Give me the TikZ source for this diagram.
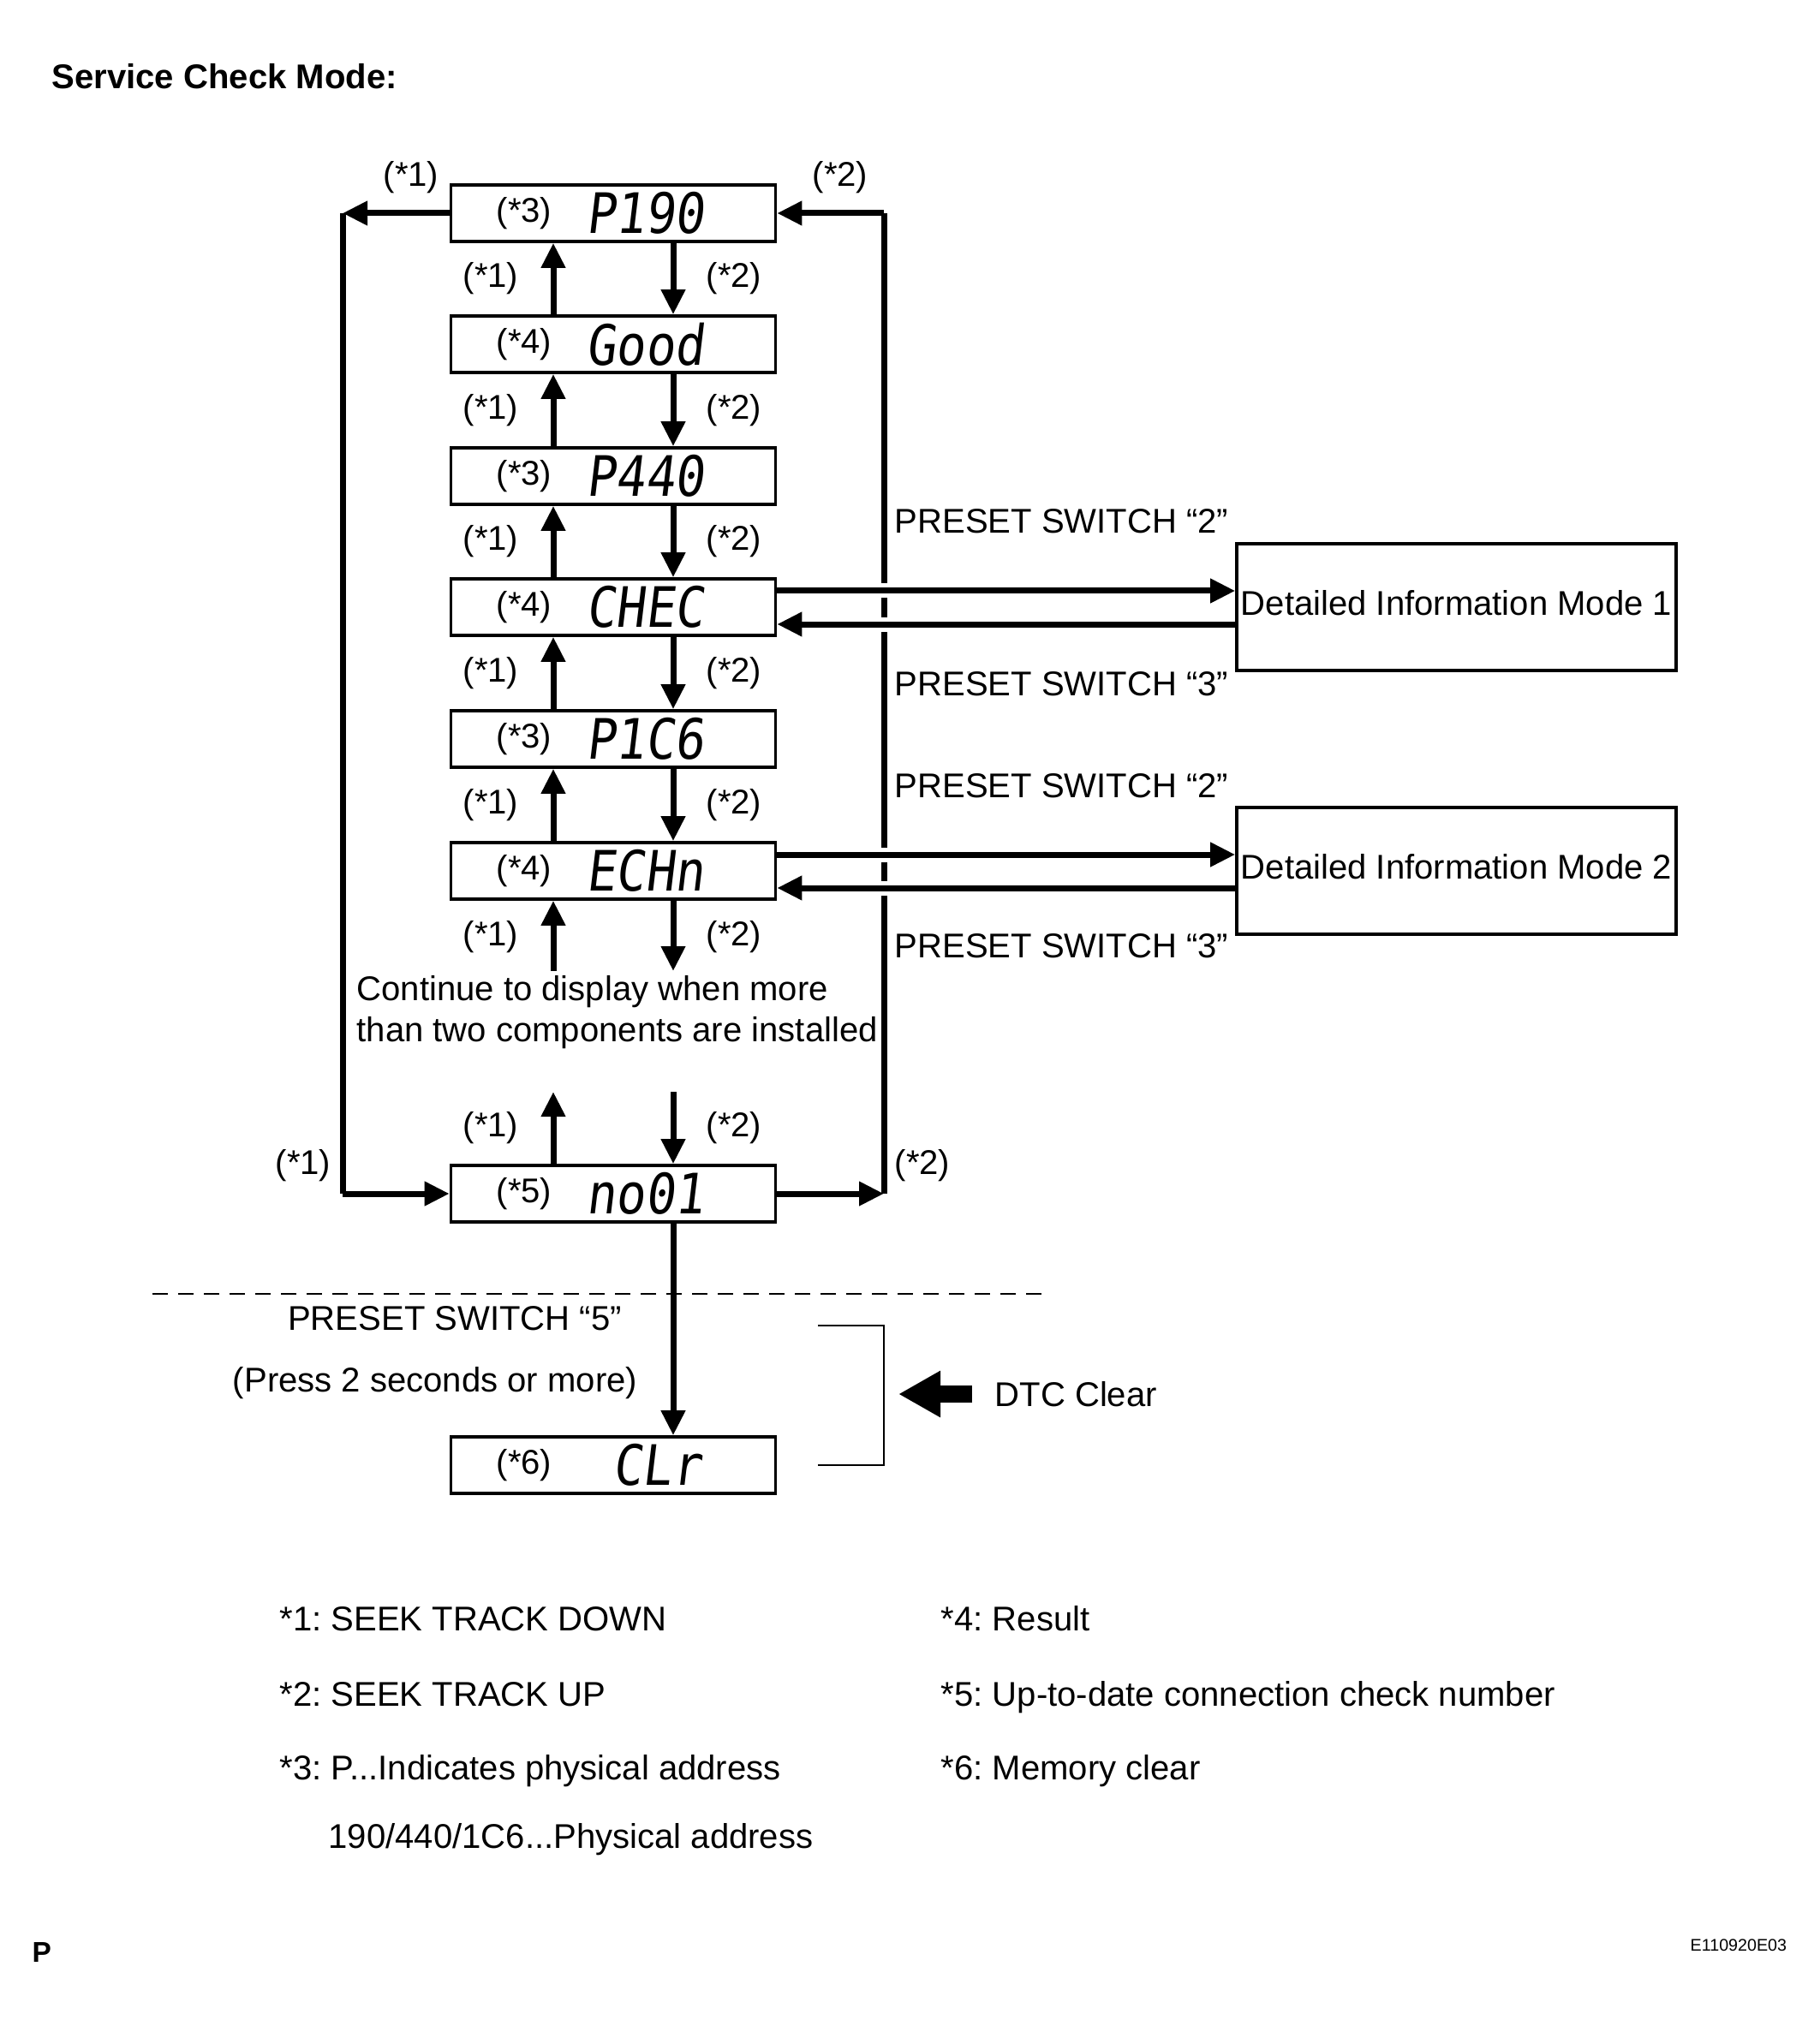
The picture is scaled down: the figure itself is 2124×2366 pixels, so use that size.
\documentclass[tikz,border=0pt]{standalone}
\usepackage{fontspec}
\setmainfont{Liberation Sans}
\newfontfamily\segfont[FakeStretch=0.88,FakeSlant=0.12]{DejaVu Sans Mono}
\usetikzlibrary{arrows.meta,calc}
\frenchspacing
\tikzset{
  dbox/.style={draw, line width=0.36mm, minimum width=37.9mm, minimum height=6.6mm, inner sep=0pt},
  ibox/.style={draw, line width=0.36mm, minimum width=51.3mm, minimum height=14.8mm, inner sep=0pt},
  arr/.style={line width=0.7mm, -{Triangle[length=2.9mm,width=2.7mm]}},
  thk/.style={line width=0.7mm},
  gapline/.style={draw=white, line width=1.7mm},
  lbl/.style={font=\fontsize{11.4}{13.7}\selectfont, inner sep=0pt},
  seg/.style={font=\segfont\fontsize{18.5}{20}\selectfont, inner sep=0pt},
  thinline/.style={line width=0.2mm},
  dashline/.style={line width=0.15mm, dash pattern=on 1.8mm off 1.2mm},
}
\begin{document}
\frenchspacing
\begin{tikzpicture}[x=0.1mm,y=-0.1mm]
\useasboundingbox (0,0) rectangle (2124,2366);

% title
\node[lbl, font=\fontsize{11.4}{13.7}\selectfont\bfseries, anchor=base west] (title) at (60,104) {Service Check Mode:};

% display boxes
\node[dbox] (b1) at (716,249) {};
\node[dbox] (b2) at (716,402) {};
\node[dbox] (b3) at (716,556) {};
\node[dbox] (b4) at (716,709) {};
\node[dbox] (b5) at (716,863) {};
\node[dbox] (b6) at (716,1017) {};
\node[dbox] (b7) at (716,1394) {};
\node[dbox] (b8) at (716,1711) {};

% box contents
\node[lbl] (t1) at ($(b1.center)+(-104,0)$) {(*3)};
\node[seg] (s1) at ($(b1.center)+(37,0)$) {P190};
\node[lbl] (t2) at ($(b2.center)+(-104,0)$) {(*4)};
\node[seg] (s2) at ($(b2.center)+(37,0)$) {Good};
\node[lbl] (t3) at ($(b3.center)+(-104,0)$) {(*3)};
\node[seg] (s3) at ($(b3.center)+(37,0)$) {P440};
\node[lbl] (t4) at ($(b4.center)+(-104,0)$) {(*4)};
\node[seg] (s4) at ($(b4.center)+(37,0)$) {CHEC};
\node[lbl] (t5) at ($(b5.center)+(-104,0)$) {(*3)};
\node[seg] (s5) at ($(b5.center)+(37,0)$) {P1C6};
\node[lbl] (t6) at ($(b6.center)+(-104,0)$) {(*4)};
\node[seg] (s6) at ($(b6.center)+(37,0)$) {ECHn};
\node[lbl] (t7) at ($(b7.center)+(-104,0)$) {(*5)};
\node[seg] (s7) at ($(b7.center)+(37,0)$) {no01};
\node[lbl] (t8) at ($(b8.center)+(-104,0)$) {(*6)};
\node[seg] (s8) at ($(b8.center)+(51,0)$) {CLr};

% arrows between boxes
\foreach \a/\b in {b1/b2,b2/b3,b3/b4,b4/b5,b5/b6}{
  \draw[arr] ($(\a.south)+(70,0)$) -- ($(\b.north)+(70,0)$);
  \draw[arr] ($(\b.north)+(-70,0)$) -- ($(\a.south)+(-70,0)$);
  \node[lbl] (u\a) at ($(\a.south)!0.5!(\b.north)+(-143,0)$) {(*1)};
  \node[lbl] (d\a) at ($(\a.south)!0.5!(\b.north)+(141,0)$) {(*2)};
}

% continuation
\coordinate (c1) at (646,1134);
\coordinate (c2) at (786,1134);
\coordinate (c3) at (646,1275);
\coordinate (c4) at (786,1275);
\draw[arr] ($(b6.south)+(70,0)$) -- (c2);
\draw[arr] (c1) -- ($(b6.south)+(-70,0)$);
\node[lbl] (u6) at (573,1094) {(*1)};
\node[lbl] (d6) at (857,1094) {(*2)};
\node[lbl, anchor=base west, align=left] (cont1) at (416,1168) {Continue to display when more};
\node[lbl, anchor=base west, align=left] (cont2) at (416,1216) {than two components are installed};
\draw[arr] ($(b7.north)+(-70,0)$) -- (c3);
\draw[arr] (c4) -- ($(b7.north)+(70,0)$);
\node[lbl] (u7) at (573,1317) {(*1)};
\node[lbl] (d7) at (857,1317) {(*2)};

% loops
\coordinate (L1) at (400,249);
\coordinate (L2) at (400,1394);
\coordinate (R1) at (1032,249);
\coordinate (R2) at (1032,1394);
\draw[arr] (b1.west) -- (L1);
\draw[thk] (L1) -- (L2);
\draw[arr] (L2) -- (b7.west);
\draw[arr] (b7.east) -- (R2);
\draw[thk] (R2) -- (R1);
\draw[arr] (R1) -- (b1.east);
\node[lbl] (lt1) at (480,207) {(*1)};
\node[lbl] (lt2) at (981,207) {(*2)};
\node[lbl] (lb1) at (354,1361) {(*1)};
\node[lbl] (lb2) at (1077,1361) {(*2)};

% detailed information boxes
\node[ibox] (A) at (1700.5,709) {};
\node[ibox] (B) at (1700.5,1017) {};
\node[lbl, anchor=west] (At) at ($(A.west)+(6,-5)$) {Detailed Information Mode 1};
\node[lbl, anchor=west] (Bt) at ($(B.west)+(6,-5)$) {Detailed Information Mode 2};

% gaps in right vertical line
\draw[gapline] ($(R1|-b4.east)+(-6,-19)$) -- ++(12,0);
\draw[gapline] ($(R1|-b4.east)+(-6,20)$) -- ++(12,0);
\draw[gapline] ($(R1|-b6.east)+(-6,-19)$) -- ++(12,0);
\draw[gapline] ($(R1|-b6.east)+(-6,20)$) -- ++(12,0);

\draw[arr] ($(b4.east)+(0,-19)$) -- ($(A.west)+(0,-19)$);
\draw[arr] ($(A.west)+(0,20)$) -- ($(b4.east)+(0,20)$);
\draw[arr] ($(b6.east)+(0,-19)$) -- ($(B.west)+(0,-19)$);
\draw[arr] ($(B.west)+(0,20)$) -- ($(b6.east)+(0,20)$);

\node[lbl, anchor=base west] (p1) at (1044,623) {PRESET SWITCH “2”};
\node[lbl, anchor=base west] (p2) at (1044,812) {PRESET SWITCH “3”};
\node[lbl, anchor=base west] (p3) at (1044,931) {PRESET SWITCH “2”};
\node[lbl, anchor=base west] (p4) at (1044,1118) {PRESET SWITCH “3”};

% dashed separator
\coordinate (dl1) at (178,1511);
\coordinate (dl2) at (1219,1511);
\draw[dashline] (dl1) -- (dl2);

% clear arrow
\draw[arr] ($(b7.south)+(70,0)$) -- ($(b8.north)+(70,0)$);
\node[lbl, anchor=base] (p5) at (531,1553) {PRESET SWITCH “5”};
\node[lbl, anchor=base] (p6) at (508,1625) {(Press 2 seconds or more)};

% bracket and DTC clear
\coordinate (br1) at (955,1548);
\coordinate (br2) at (1032,1548);
\coordinate (br3) at (1032,1711);
\coordinate (br4) at (955,1711);
\draw[thinline] (br1) -- (br2) -- (br3) -- (br4);
\coordinate (dtcA) at (1135,1628);
\coordinate (dtcB) at (1049,1628);
\draw[line width=2mm, -{Triangle[length=4.9mm,width=5.1mm]}] (dtcA) -- (dtcB);
\node[lbl, anchor=base west] (dtc) at (1161,1642) {DTC Clear};

% legend
\node[lbl, anchor=base west] (n1) at (326,1904) {*1: SEEK TRACK DOWN};
\node[lbl, anchor=base west] (n2) at (326,1992) {*2: SEEK TRACK UP};
\node[lbl, anchor=base west] (n3) at (326,2078) {*3: P...Indicates physical address};
\node[lbl, anchor=base west] (n3b) at (383,2158) {190/440/1C6...Physical address};
\node[lbl, anchor=base west] (n4) at (1098,1904) {*4: Result};
\node[lbl, anchor=base west] (n5) at (1098,1992) {*5: Up-to-date connection check number};
\node[lbl, anchor=base west] (n6) at (1098,2078) {*6: Memory clear};

% footer
\node[inner sep=0pt, font=\fontsize{9.5}{11}\selectfont\bfseries, anchor=base west] (pp) at (37,2291) {P};
\node[inner sep=0pt, font=\fontsize{5.6}{7}\selectfont, anchor=base west] (code) at (1973,2278) {E110920E03};
\end{tikzpicture}
\end{document}
